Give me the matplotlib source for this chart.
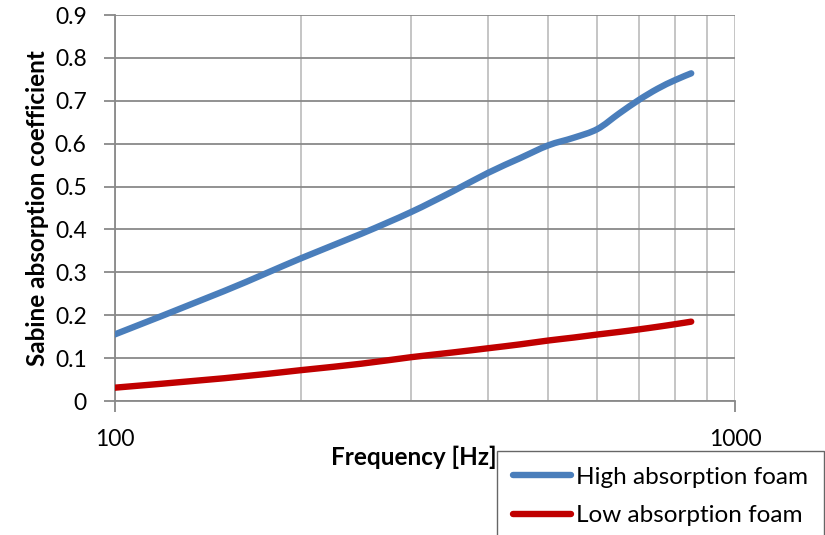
import matplotlib
matplotlib.use("Agg")
import numpy as np
import matplotlib.pyplot as plt
from matplotlib.lines import Line2D
from matplotlib.path import Path
from matplotlib.patches import PathPatch

# Frequency grid (Hz) and measured absorption coefficients
frequency_hz = [100, 150, 200, 250, 300, 350, 400, 450, 500, 550, 600, 650, 700, 750, 800, 850]
high_foam = [0.155, 0.256, 0.333, 0.390, 0.440, 0.488, 0.532, 0.566, 0.596, 0.614, 0.634,
             0.670, 0.702, 0.728, 0.748, 0.764]
low_foam = [0.031, 0.053, 0.072, 0.087, 0.102, 0.113, 0.123, 0.132, 0.141, 0.148, 0.155,
            0.161, 0.167, 0.173, 0.179, 0.185]

series_names = ["High absorption foam", "Low absorption foam"]
series_colors = ["#4A7EBB", "#C00000"]

y_ticks = [0, 0.1, 0.2, 0.3, 0.4, 0.5, 0.6, 0.7, 0.8, 0.9]
y_tick_labels = ["0", "0.1", "0.2", "0.3", "0.4", "0.5", "0.6", "0.7", "0.8", "0.9"]
x_ticks = [100, 1000]
x_tick_labels = ["100", "1000"]

plt.rcParams["font.family"] = ["Lato", "DejaVu Sans"]


def smooth_path(xs, ys):
    """Smoothed line through the points (Catmull-Rom as cubic Bezier, in log-x space)."""
    pts = np.column_stack([np.log10(xs), ys])
    n = len(pts)
    verts = [pts[0]]
    codes = [Path.MOVETO]
    for i in range(n - 1):
        p_prev = pts[max(i - 1, 0)]
        p_next = pts[min(i + 2, n - 1)]
        c1 = pts[i] + (pts[i + 1] - p_prev) / 6.0
        c2 = pts[i + 1] - (p_next - pts[i]) / 6.0
        verts += [c1, c2, pts[i + 1]]
        codes += [Path.CURVE4] * 3
    verts = np.array(verts)
    verts[:, 0] = 10 ** verts[:, 0]
    return Path(verts, codes)


W, H = 825, 535
fig = plt.figure(figsize=(W / 100, H / 100), dpi=100)
ax = fig.add_axes([114.5 / W, 1 - 401 / H, (735 - 114.5) / W, (401 - 15) / H])

dark_grid = "#898989"
light_grid = "#C0C0C0"

ax.set_xscale("log")
ax.set_xlim(100, 1000)
ax.set_ylim(0, 0.9)

ax.set_yticks(y_ticks)
ax.set_yticklabels(y_tick_labels)
ax.set_xticks(x_ticks)
ax.set_xticklabels(x_tick_labels)
ax.xaxis.set_minor_locator(matplotlib.ticker.LogLocator(base=10, subs=range(2, 10)))
ax.xaxis.set_minor_formatter(matplotlib.ticker.NullFormatter())

ax.tick_params(axis="y", which="major", length=8, width=1.3, color=dark_grid,
               labelsize=16.5, pad=12, labelcolor="black")
ax.tick_params(axis="x", which="major", length=8, width=1.3, color=dark_grid,
               labelsize=16.5, pad=12, labelcolor="black")
ax.tick_params(axis="x", which="minor", length=0)

ax.grid(True, axis="y", which="major", color=dark_grid, linewidth=1.3, zorder=1)
ax.grid(True, axis="x", which="both", color=light_grid, linewidth=1.3, zorder=1)

for side in ("top", "right"):
    ax.spines[side].set_visible(False)
for side in ("left", "bottom"):
    ax.spines[side].set_color(dark_grid)
    ax.spines[side].set_linewidth(1.3)
ax.set_axisbelow(True)

for values, color in zip([high_foam, low_foam], series_colors):
    patch = PathPatch(smooth_path(frequency_hz, values), fill=False, edgecolor=color,
                      linewidth=4.6, capstyle="round", joinstyle="round", zorder=3)
    ax.add_patch(patch)

ax.set_ylabel("Sabine absorption coefficient", fontsize=17.5, fontweight="bold", labelpad=4)
fig.text(414 / W, 1 - 457 / H, "Frequency [Hz]", fontsize=17.5, fontweight="bold",
         ha="center", va="center")

handles = [Line2D([0], [0], color=c, linewidth=4.6, solid_capstyle="round")
           for c in series_colors]
leg = fig.legend(handles, series_names, loc="upper left",
                 bbox_to_anchor=(497 / W, 1 - 451 / H), fontsize=17.5,
                 frameon=True, fancybox=False, edgecolor="#404040",
                 handlelength=2.4, handletextpad=0.2, borderpad=0.65,
                 labelspacing=0.72, borderaxespad=0)
leg.get_frame().set_linewidth(1.0)

fig.savefig("out.png", dpi=100)
